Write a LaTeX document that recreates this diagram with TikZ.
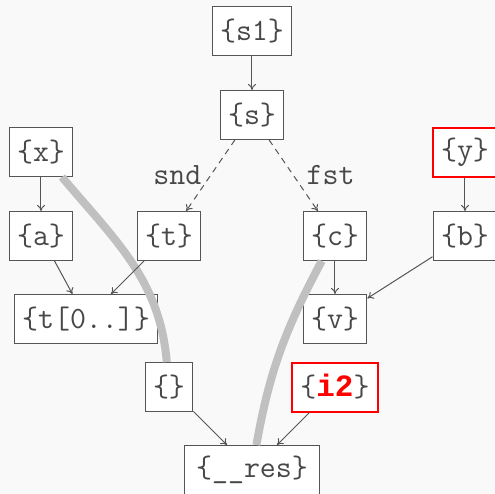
\documentclass[tikz,border=0pt]{standalone}
\usepackage{fontspec}
\newfontfamily\boldmono{Liberation Mono}
\usepackage{xcolor}
\usepackage{tikz}
\usetikzlibrary{arrows.meta}

\definecolor{bgcol}{RGB}{249,249,249}
\definecolor{linecol}{RGB}{85,85,85}
\definecolor{textcol}{RGB}{72,72,72}
\definecolor{flowcol}{RGB}{192,192,192}

\begin{document}
\begin{tikzpicture}[x=0.5pt,y=0.5pt]
\tikzstyle{var} = [rectangle, draw=linecol, line width=0.5pt, fill=white, minimum height=24.5pt, inner xsep=4pt, text=textcol, font=\fontsize{15.5}{17}\ttfamily]
\tikzstyle{hot} = [draw=red, line width=1pt]
\tikzstyle{arrow} = [draw=linecol, line width=0.5pt, -{To[length=3pt,width=4pt]}]
\tikzstyle{flow} = [draw=flowcol, line width=4pt]
\tikzstyle{lbl} = [text=textcol, font=\fontsize{15.5}{17}\ttfamily]

\fill [bgcol] (0,0) rectangle (495,-494);
\useasboundingbox (0,0) rectangle (495,-494);

\node (s1) [var] at (252,-31) {\{s1\}};
\node (s) [var] at (252,-115) {\{s\}};
\node (x) [var] at (41,-152) {\{x\}};
\node (y) [var, hot] at (465,-152) {\{y\}};
\node (a) [var] at (41,-236) {\{a\}};
\node (t) [var] at (169,-236) {\{t\}};
\node (c) [var] at (335,-236) {\{c\}};
\node (b) [var] at (465,-236) {\{b\}};
\node (tsl) [var] at (86,-319) {\{t[0..]\}};
\node (v) [var] at (335,-319) {\{v\}};
\node (empty) [var] at (169,-387) {\{\}};
\node (i2) [var, hot] at (335,-387) {\{{\boldmono\bfseries\color{red}i2}\}};
\node (res) [var, inner xsep=6pt] at (252,-470) {\{\_\_res\}};

% thick flows
\draw [flow] (x) to[out=-50,in=95] (empty);
\draw [flow] (c) to[out=-118,in=80] (res);

\draw [arrow] (s1) -- (s);
\draw [arrow, dash pattern=on 3pt off 2.5pt] (s) -- node[lbl, midway, left, xshift=-1pt] {snd} (t);
\draw [arrow, dash pattern=on 3pt off 2.5pt] (s) -- node[lbl, midway, right, xshift=3pt] {fst} (c);
\draw [arrow] (x) -- (a);
\draw [arrow] (y) -- (b);
\draw [arrow] (a) -- (tsl);
\draw [arrow] (t) -- (tsl);
\draw [arrow] (c) -- (v);
\draw [arrow] (b) -- (v);
\draw [arrow] (empty) -- (res);
\draw [arrow] (i2) -- (res);

\end{tikzpicture}
\end{document}
